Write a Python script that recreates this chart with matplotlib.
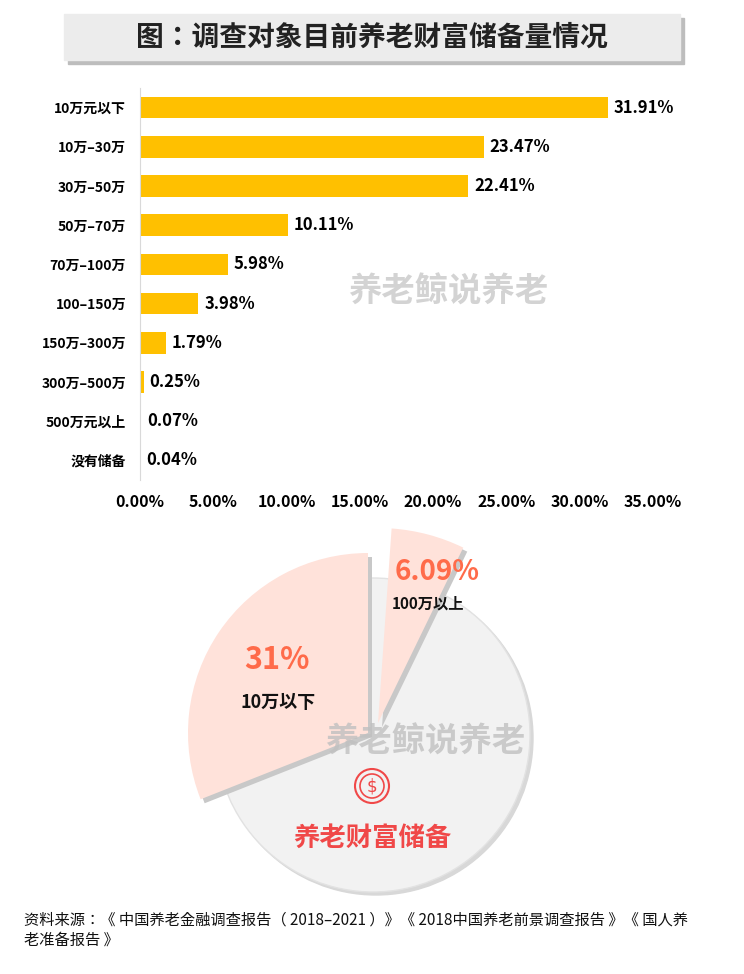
import matplotlib
matplotlib.use("Agg")
import matplotlib.pyplot as plt
from matplotlib import font_manager
from matplotlib.patches import Wedge, Circle, Rectangle
import numpy as np

names = {f.name for f in font_manager.fontManager.ttflist}
cjk = [n for n in ["Noto Sans CJK SC", "Noto Sans CJK JP", "Noto Sans CJK TC", "Noto Sans CJK KR"] if n in names]
plt.rcParams["font.family"] = cjk + ["DejaVu Sans"]

categories = ["10万元以下", "10万–30万", "30万–50万", "50万–70万", "70万–100万",
              "100–150万", "150万–300万", "300万–500万", "500万元以上", "没有储备"]
values = [31.91, 23.47, 22.41, 10.11, 5.98, 3.98, 1.79, 0.25, 0.07, 0.04]
xticks = [0, 5, 10, 15, 20, 25, 30, 35]
pie_low_label, pie_low_value = "10万以下", 31
pie_high_label, pie_high_value = "100万以上", 6.09

W, H = 744, 974
fig = plt.figure(figsize=(W/100, H/100), dpi=100)
fig.patch.set_facecolor("white")

bg = fig.add_axes([0, 0, 1, 1])
bg.set_xlim(0, W); bg.set_ylim(H, 0); bg.axis("off")
bg.add_patch(Rectangle((68, 18), 616, 46, color="#bdbdbd", zorder=1))
bg.add_patch(Rectangle((64, 14), 616, 46, color="#ececec", zorder=2))
bg.text(372, 38, "图：调查对象目前养老财富储备量情况", ha="center", va="center",
        fontsize=20, fontweight="bold", color="#222222", zorder=3)

ax = fig.add_axes([140/W, 1-480/H, (653-140)/W, (480-88)/H])
y = np.arange(len(categories))
ax.barh(y, values, height=0.55, color="#FFC000")
ax.set_ylim(len(categories)-0.5, -0.5)
ax.set_xlim(0, 35)
ax.set_yticks(y)
ax.set_yticklabels(categories, fontsize=10, fontweight="bold")
ax.set_xticks(xticks)
ax.set_xticklabels([f"{t:.2f}%" for t in xticks], fontsize=11.5, fontweight="bold")
ax.tick_params(length=0, pad=10)
for s in ["top", "right", "bottom"]:
    ax.spines[s].set_visible(False)
ax.spines["left"].set_color("#d9d9d9")
for yi, v in zip(y, values):
    ax.text(v + 0.4, yi, f"{v:.2f}%", va="center", ha="left", fontsize=12, fontweight="bold")
ax.text(0.6, 0.48, "养老鲸说养老", transform=ax.transAxes, fontsize=24, fontweight="bold",
        fontstyle="italic", color="#c8c8c8", alpha=0.8, ha="center", va="center")

cx, cy, r = 373, 735, 157
bg.add_patch(Circle((cx+3, cy+3), r, color="#d8d8d8", zorder=2))
bg.add_patch(Circle((cx, cy), r, facecolor="#f2f2f2", edgecolor="#e2e2e2", zorder=3))
a_low = pie_low_value/100*360
bg.add_patch(Wedge((cx-1, cy+2), 180, 360-(90+a_low), 270, facecolor="#c8c8c8", zorder=3.9))
bg.add_patch(Wedge((cx-5, cy-2), 180, 360-(90+a_low), 270, facecolor="#FFE2DA", zorder=4))
a_high = pie_high_value/100*360
start = 86
bg.add_patch(Wedge((cx+9, cy-8), 195, 360-start, 360-start+a_high, facecolor="#c8c8c8", zorder=3.9))
bg.add_patch(Wedge((cx+5, cy-12), 195, 360-start, 360-start+a_high, facecolor="#FFE2DA", zorder=4))
bg.text(277, 660, f"{pie_low_value}%", fontsize=22, fontweight="bold", color="#FF6B4A",
        ha="center", va="center", zorder=6)
bg.text(278, 702, pie_low_label, fontsize=13, fontweight="bold", color="#111111",
        ha="center", va="center", zorder=6)
bg.text(437, 572, f"{pie_high_value}%", fontsize=20, fontweight="bold", color="#FF6B4A",
        ha="center", va="center", zorder=6)
bg.text(428, 604, pie_high_label, fontsize=11, fontweight="bold", color="#111111",
        ha="center", va="center", zorder=6)
bg.add_patch(Circle((372, 786), 17, fill=False, edgecolor="#F04848", lw=1.5, zorder=6))
bg.add_patch(Circle((372, 786), 12, fill=False, edgecolor="#F04848", lw=1.2, zorder=6))
bg.text(372, 786, "$", fontsize=12, color="#F04848", ha="center", va="center", zorder=7,
        fontfamily="DejaVu Sans")
bg.text(372, 838, "养老财富储备", fontsize=19, fontweight="bold", color="#F04848",
        ha="center", va="center", zorder=6)
bg.text(425, 742, "养老鲸说养老", fontsize=24, fontweight="bold", fontstyle="italic",
        color="#c0c0c0", alpha=0.8, ha="center", va="center", zorder=7)

bg.text(24, 930, "资料来源：《 中国养老金融调查报告（ 2018–2021 ）》《 2018中国养老前景调查报告 》《 国人养\n老准备报告 》",
        fontsize=11, color="#111111", ha="left", va="center", linespacing=1.2, zorder=6)

fig.savefig("out.png", dpi=100)
